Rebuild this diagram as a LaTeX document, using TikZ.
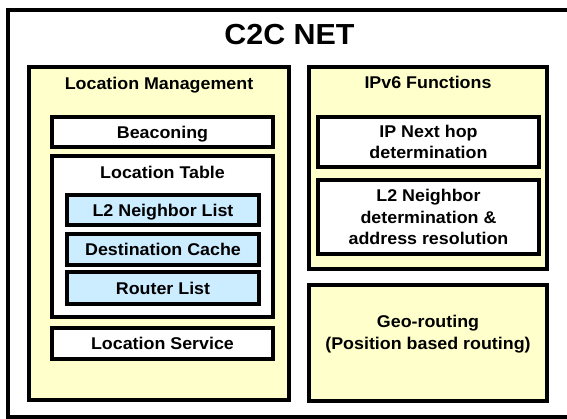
\documentclass[tikz,border=0pt]{standalone}
\usepackage{fontspec}
\setmainfont{Liberation Sans}[FakeStretch=1.05]
\definecolor{boxyellow}{RGB}{255,255,204}
\definecolor{boxblue}{RGB}{204,236,255}
\tikzset{
  frame/.style={draw=black, line width=3.6pt, inner sep=0pt, outer sep=0pt},
  lbl/.style={font=\bfseries\fontsize{17}{21.5}\selectfont, align=center},
  oneline/.style={lbl, text height=12.2pt, text depth=0pt},
  ybox/.style={frame, fill=boxyellow},
  wbox/.style={frame, fill=white},
  bbox/.style={frame, fill=boxblue},
}
\begin{document}
\begin{tikzpicture}[x=1pt,y=-1pt]
\useasboundingbox (0,0) rectangle (567,419);
\clip (0,0) rectangle (567,419);
\fill[white] (0,0) rectangle (567,419);
% outer frame (right edge cut off by the picture border)
\node[frame, fill=white, minimum width=572pt, minimum height=407pt] (outer) at (294,213.5) {};
\node[anchor=base, font=\bfseries\fontsize{29}{34}\selectfont] (title) at (289.5,45) {C2C NET};
% Location management
\node[ybox, minimum width=260pt, minimum height=333pt] (lm) at (159,233.5) {};
\node[lbl, anchor=base] (lmtitle) at (159,89.5) {Location Management};
\node[wbox, oneline, minimum width=221pt, minimum height=30pt] (beacon) at (162.5,132) {Beaconing};
\node[wbox, minimum width=221pt, minimum height=161pt] (lt) at (162.5,236.5) {};
\node[lbl, anchor=base] (lttitle) at (162.5,179) {Location Table};
\node[bbox, oneline, minimum width=192pt, minimum height=30pt] (l2nl) at (163,210) {L2 Neighbor List};
\node[bbox, oneline, minimum width=192pt, minimum height=31pt] (dc) at (163,249.5) {Destination Cache};
\node[bbox, oneline, minimum width=192pt, minimum height=32pt] (rl) at (163,288) {Router List};
\node[wbox, oneline, minimum width=221pt, minimum height=31pt] (ls) at (162.5,343.5) {Location Service};
% IPv6 functions
\node[ybox, minimum width=238pt, minimum height=202pt] (ipv6) at (428,168) {};
\node[lbl, anchor=base] (ipv6title) at (428,89) {IPv6 Functions};
\node[wbox, lbl, minimum width=221pt, minimum height=50pt] (nexthop) at (428.5,142) {IP Next hop\\determination};
\node[wbox, lbl, minimum width=221pt, minimum height=74pt] (l2nd) at (428.5,217) {L2 Neighbor\\determination \&\\address resolution};
% Geo-routing
\node[ybox, minimum width=238pt, minimum height=116pt] (geo) at (428,343) {};
\node[lbl] (geotext) at (428,334) {Geo-routing\\(Position based routing)};
\end{tikzpicture}
\end{document}
